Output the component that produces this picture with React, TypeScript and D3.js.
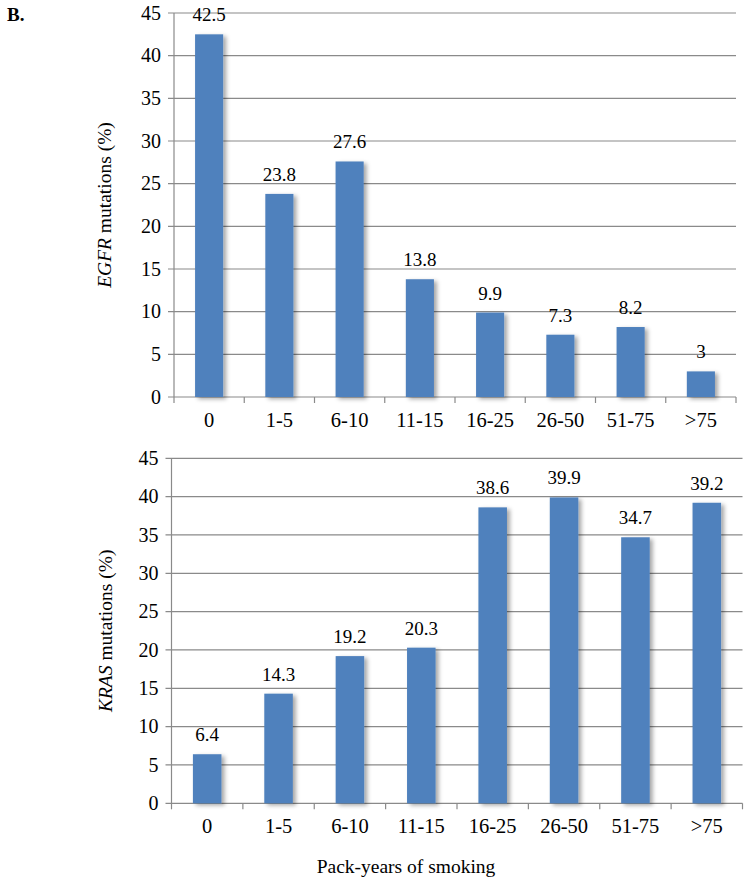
import React from "react";
import * as d3 from "d3";

const categories = ["0", "1-5", "6-10", "11-15", "16-25", "26-50", "51-75", ">75"];
const egfrValues = [42.5, 23.8, 27.6, 13.8, 9.9, 7.3, 8.2, 3];
const krasValues = [6.4, 14.3, 19.2, 20.3, 38.6, 39.9, 34.7, 39.2];
const yTicks = [0, 5, 10, 15, 20, 25, 30, 35, 40, 45];
const valueLabels = (v: number) => String(v);

const FONT = "'Liberation Serif', 'Times New Roman', serif";
const BAR = "#4F81BD";
const GRID = "#8a8a8a";

type PanelProps = {
  values: number[];
  x0: number;
  x1: number;
  yTop: number;
  yBottom: number;
  gene: string;
  labelX: number;
};

function Panel({ values, x0, x1, yTop, yBottom, gene, labelX }: PanelProps) {
  const x = d3.scaleBand<string>().domain(categories).range([x0, x1]).paddingInner(0.6).paddingOuter(0.3);
  const xTicks = d3.scaleBand<string>().domain(categories).range([x0, x1]).padding(0);
  const y = d3.scaleLinear().domain([0, 45]).range([yBottom, yTop]);
  const step = xTicks.step();
  return (
    <g>
      {yTicks.map((t) => (
        <g key={t}>
          <line x1={x0 - 6} x2={x1} y1={y(t)} y2={y(t)} stroke={GRID} strokeWidth={1.2} />
          <text x={x0 - 13} y={y(t)} dy="0.33em" textAnchor="end" fontSize={20} fontFamily={FONT}>
            {t}
          </text>
        </g>
      ))}
      <line x1={x0} x2={x0} y1={yTop} y2={yBottom} stroke={GRID} strokeWidth={1.2} />
      {categories.map((c, i) => (
        <line key={c} x1={x0 + i * step} x2={x0 + i * step} y1={yBottom} y2={yBottom + 6} stroke={GRID} strokeWidth={1.2} />
      ))}
      <line x1={x1} x2={x1} y1={yBottom} y2={yBottom + 6} stroke={GRID} strokeWidth={1.2} />
      {categories.map((c) => (
        <text key={c} x={(xTicks(c) as number) + step / 2} y={yBottom + 30} textAnchor="middle" fontSize={20.5} fontFamily={FONT}>
          {c}
        </text>
      ))}
      {values.map((v, i) => {
        const c = categories[i];
        return (
          <g key={c}>
            <rect x={x(c)} y={y(v)} width={x.bandwidth()} height={yBottom - y(v)} fill={BAR} filter="url(#shadow)" />
            <text x={(x(c) as number) + x.bandwidth() / 2} y={y(v) - 13} textAnchor="middle" fontSize={19} fontFamily={FONT}>
              {valueLabels(v)}
            </text>
          </g>
        );
      })}
      <text
        transform={`translate(${labelX},${(yTop + yBottom) / 2}) rotate(-90)`}
        textAnchor="middle"
        dy="0.33em"
        fontSize={19.5}
        fontFamily={FONT}
      >
        <tspan fontStyle="italic">{gene}</tspan>
        <tspan> mutations (%)</tspan>
      </text>
    </g>
  );
}

export default function App() {
  return (
    <svg width={749} height={884} style={{ position: "absolute", left: 0, top: 0, background: "#fff" }}>
      <defs>
        <filter id="shadow" x="-30%" y="-10%" width="170%" height="130%">
          <feDropShadow dx={3} dy={2} stdDeviation={2} floodColor="#000" floodOpacity={0.35} />
        </filter>
      </defs>
      <rect width={749} height={884} fill="#fff" />
      <text x={7} y={21} fontSize={19} fontWeight="bold" fontFamily={FONT}>B.</text>
      <Panel values={egfrValues} x0={174} x1={736} yTop={13} yBottom={397} gene="EGFR" labelX={105} />
      <Panel values={krasValues} x0={171.5} x1={742.5} yTop={458.3} yBottom={803.3} gene="KRAS" labelX={106} />
      <text x={406} y={873} textAnchor="middle" fontSize={19.5} fontFamily={FONT}>Pack-years of smoking</text>
    </svg>
  );
}
